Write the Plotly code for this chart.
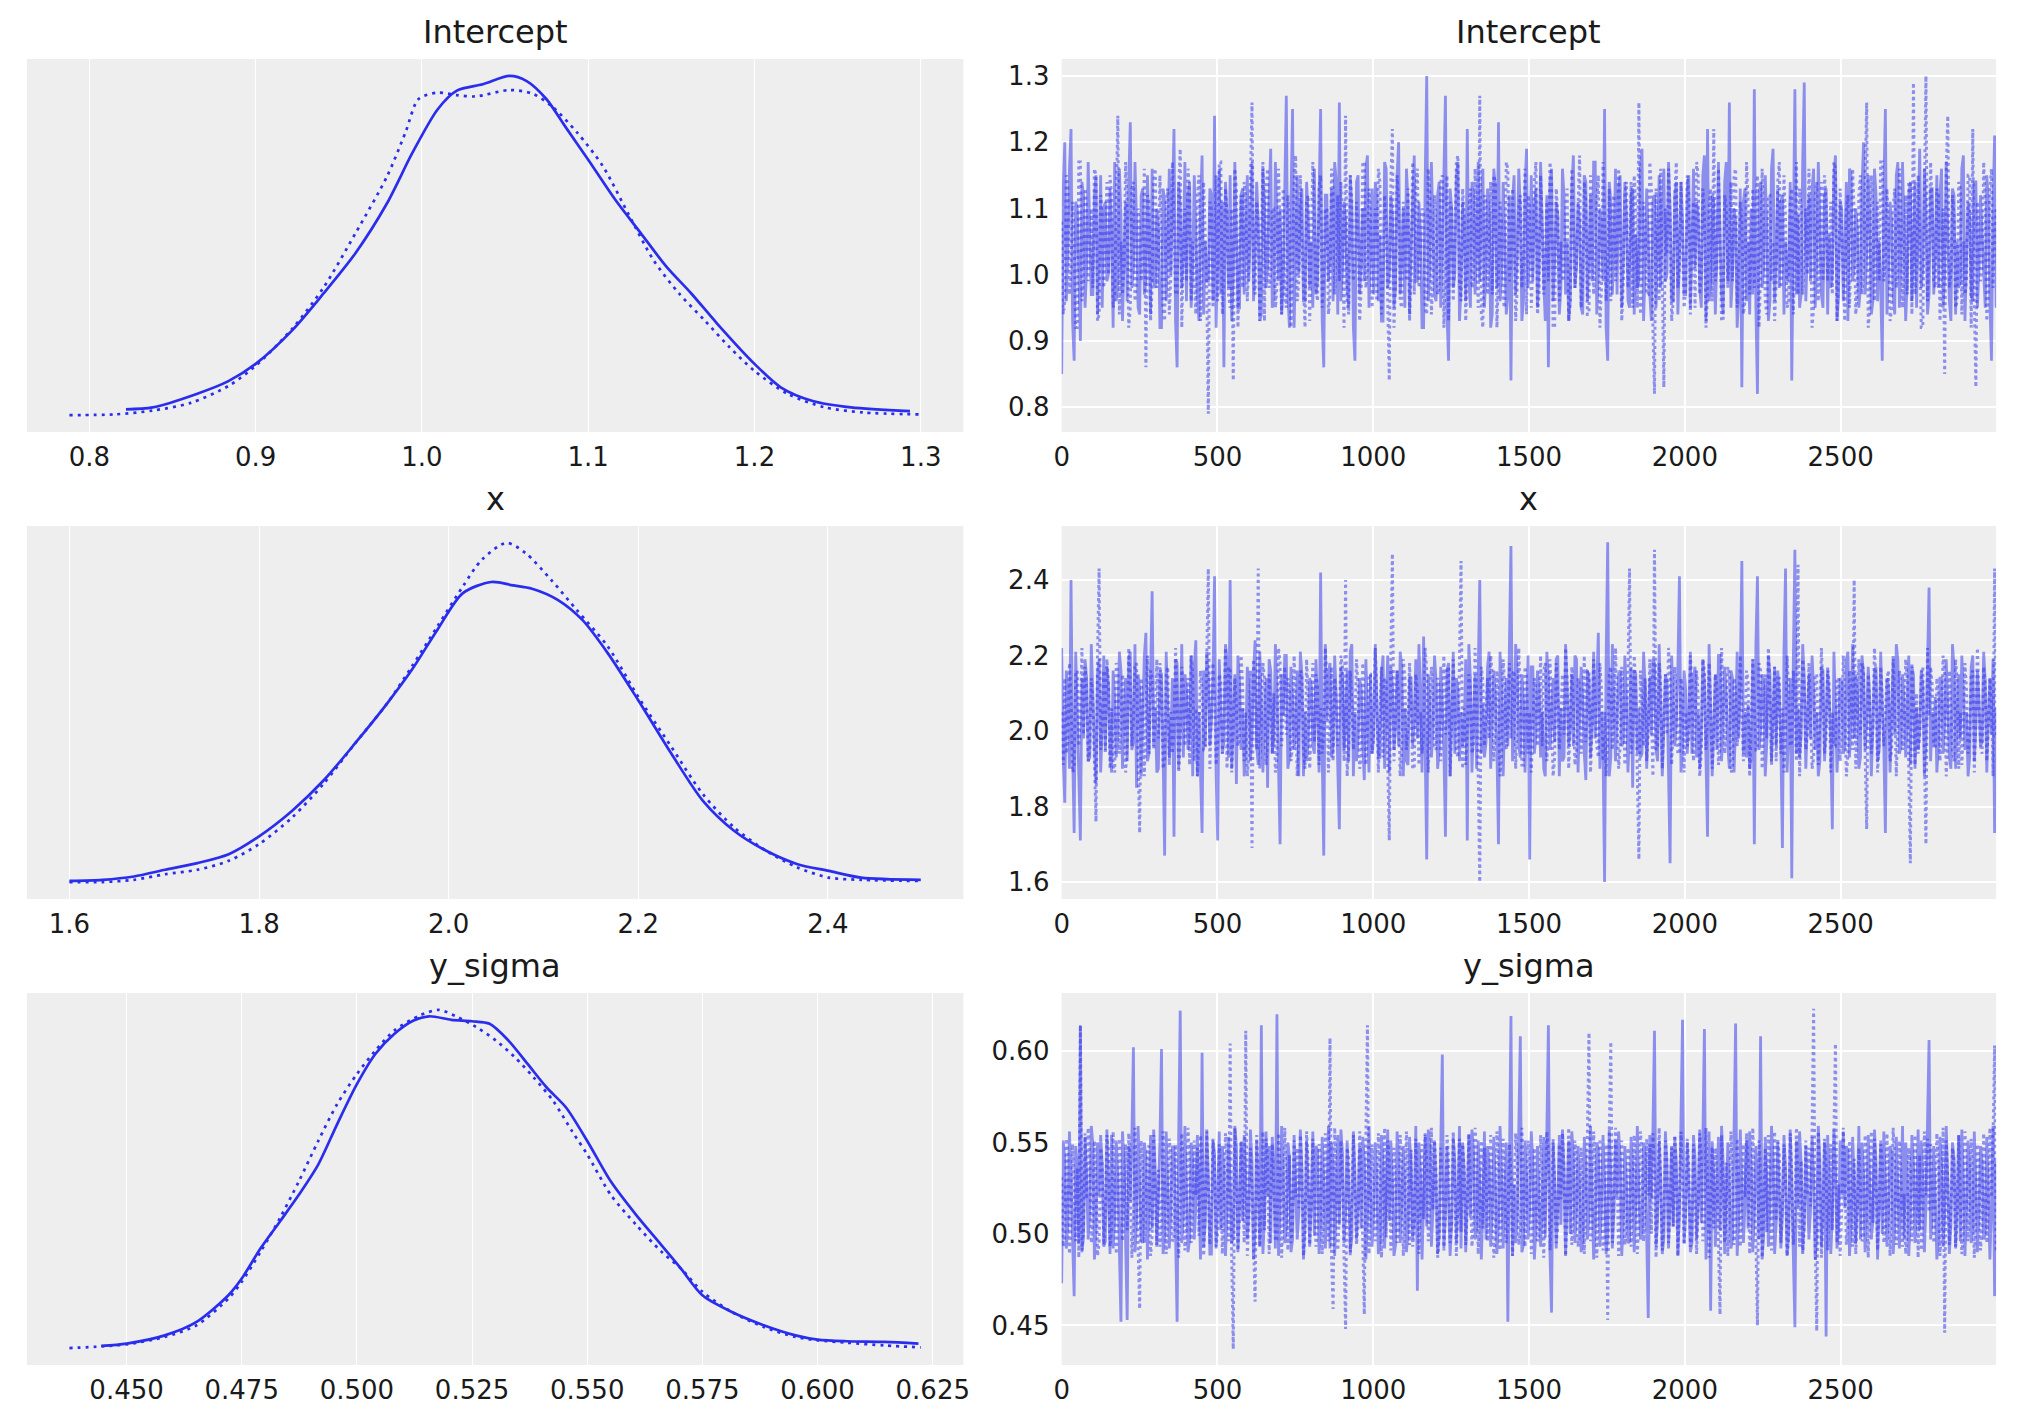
import numpy as np
import plotly.graph_objects as go

# ---------------- data ----------------
params = ["Intercept", "x", "y_sigma"]

# KDE curves (value grid, density) for chain 0 (solid) and chain 1 (dotted)
icpt_kde_x_c0 = [0.822, 0.838, 0.8645, 0.8836, 0.900, 0.9218, 0.9408, 0.960, 0.979, 0.9943, 1.0095, 1.021, 1.0366,
                 1.0527, 1.063, 1.0748, 1.0859, 1.100, 1.1164, 1.1317, 1.147, 1.162, 1.1775, 1.200, 1.216, 1.235,
                 1.258, 1.2935]
icpt_kde_d_c0 = [0.10, 0.13, 0.34, 0.54, 0.81, 1.33, 1.91, 2.54, 3.32, 4.11, 4.79, 5.08, 5.18, 5.31, 5.23, 4.95, 4.53,
                 4.00, 3.37, 2.85, 2.33, 1.91, 1.44, 0.81, 0.44, 0.23, 0.13, 0.07]
icpt_kde_x_c1 = [0.788, 0.815, 0.838, 0.861, 0.884, 0.900, 0.922, 0.941, 0.960, 0.979, 0.990, 0.998, 1.0095, 1.021,
                 1.0324, 1.0527, 1.0668, 1.078, 1.0935, 1.1088, 1.124, 1.1393, 1.1546, 1.170, 1.185, 1.200, 1.220,
                 1.2424, 1.2653, 1.300]
icpt_kde_d_c1 = [0.01, 0.02, 0.08, 0.20, 0.47, 0.78, 1.36, 2.01, 2.85, 3.74, 4.42, 4.95, 5.05, 5.01, 4.99, 5.09, 5.03,
                 4.84, 4.42, 3.90, 3.16, 2.43, 1.91, 1.49, 1.07, 0.70, 0.34, 0.13, 0.05, 0.02]

x_kde_x_c0 = [1.600, 1.635, 1.668, 1.701, 1.735, 1.768, 1.800, 1.835, 1.868, 1.901, 1.935, 1.961, 1.988, 2.015, 2.045,
              2.068, 2.088, 2.115, 2.141, 2.168, 2.200, 2.235, 2.268, 2.301, 2.335, 2.368, 2.401, 2.435, 2.498]
x_kde_d_c0 = [0.02, 0.03, 0.06, 0.12, 0.18, 0.26, 0.42, 0.65, 0.92, 1.25, 1.61, 1.91, 2.27, 2.60, 2.70, 2.67, 2.64,
              2.54, 2.36, 2.06, 1.64, 1.16, 0.74, 0.47, 0.29, 0.17, 0.11, 0.05, 0.03]
x_kde_x_c1 = [1.600, 1.635, 1.668, 1.701, 1.735, 1.768, 1.800, 1.835, 1.868, 1.901, 1.935, 1.961, 1.988, 2.015, 2.035,
              2.061, 2.081, 2.108, 2.135, 2.168, 2.200, 2.235, 2.268, 2.301, 2.335, 2.368, 2.401, 2.435, 2.495]
x_kde_d_c1 = [0.01, 0.01, 0.03, 0.08, 0.12, 0.20, 0.35, 0.59, 0.89, 1.25, 1.61, 1.94, 2.30, 2.66, 2.90, 3.05, 2.96,
              2.72, 2.45, 2.12, 1.67, 1.22, 0.80, 0.50, 0.29, 0.14, 0.05, 0.03, 0.02]

ys_kde_x_c0 = [0.4445, 0.450, 0.4583, 0.4652, 0.4721, 0.475, 0.4791, 0.4833, 0.4874, 0.4916, 0.4957, 0.500, 0.504,
               0.5081, 0.5123, 0.5157, 0.5205, 0.525, 0.5288, 0.5329, 0.5371, 0.5412, 0.5454, 0.550, 0.5551, 0.5606,
               0.5661, 0.5703, 0.575, 0.5814, 0.5883, 0.5952, 0.600, 0.6063, 0.6146, 0.6219]
ys_kde_d_c0 = [0.16, 0.26, 0.61, 1.18, 2.31, 3.02, 4.30, 5.44, 6.57, 7.85, 9.56, 11.26, 12.54, 13.39, 13.96, 14.14,
               13.99, 13.93, 13.82, 13.11, 12.11, 11.12, 10.27, 8.85, 7.14, 5.72, 4.44, 3.45, 2.31, 1.60, 1.04, 0.61,
               0.43, 0.36, 0.33, 0.26]
ys_kde_x_c1 = [0.4376, 0.4445, 0.450, 0.4583, 0.4652, 0.4721, 0.475, 0.4791, 0.4833, 0.4874, 0.4916, 0.4957, 0.500,
               0.504, 0.5081, 0.5136, 0.5178, 0.5219, 0.526, 0.5302, 0.5343, 0.5384, 0.5426, 0.5467, 0.550, 0.5551,
               0.5606, 0.5661, 0.5703, 0.575, 0.5814, 0.5883, 0.5952, 0.600, 0.6063, 0.6146, 0.6224]
ys_kde_d_c1 = [0.07, 0.14, 0.23, 0.54, 1.04, 2.17, 2.88, 4.16, 5.58, 7.14, 8.85, 10.41, 11.69, 12.68, 13.53, 14.17,
               14.41, 14.10, 13.67, 13.11, 12.40, 11.54, 10.55, 9.27, 8.28, 6.57, 5.30, 4.16, 3.45, 2.46, 1.60, 0.97,
               0.54, 0.40, 0.30, 0.18, 0.10]

# Trace samples (thinned read-out, one value per ~5 draws)
# Intercept in hundredths
icpt_trace_c0 = [
    85, 113, 120, 96, 104, 116, 122, 93, 87, 111, 110, 98, 90, 114, 112, 95, 101, 117, 108, 97, 97, 112, 115, 94, 103, 115, 95, 110, 111, 99, 100, 113, 106, 92, 117, 96, 99, 116, 109, 93,
    103, 111, 96, 114, 123, 98, 101, 117, 108, 95, 94, 112, 113, 97, 99, 115, 105, 94, 116, 99, 98, 110, 107, 92, 92, 113, 111, 96, 104, 116, 100, 111, 122, 93, 86, 114, 110, 98, 103, 117,
    96, 112, 114, 95, 101, 115, 107, 97, 93, 110, 118, 94, 105, 99, 99, 113, 112, 96, 124, 92, 102, 116, 97, 111, 86, 114, 109, 98, 115, 93, 100, 117, 106, 95, 95, 112, 113, 97, 104, 115,
    99, 110, 117, 96, 103, 114, 108, 93, 94, 116, 111, 98, 101, 112, 119, 95, 97, 117, 106, 99, 110, 94, 98, 113, 127, 97, 92, 111, 125, 92, 104, 115, 100, 110, 113, 96, 96, 114, 109, 98,
    105, 95, 116, 97, 99, 116, 125, 93, 86, 112, 112, 99, 103, 113, 96, 117, 114, 94, 126, 96, 101, 111, 108, 98, 95, 115, 110, 92, 87, 114, 115, 97, 102, 110, 99, 116, 118, 95, 104, 113,
    97, 114, 112, 96, 106, 93, 93, 117, 116, 98, 100, 112, 109, 95, 98, 115, 120, 97, 103, 110, 95, 116, 111, 94, 104, 113, 118, 99, 99, 111, 106, 92, 92, 114, 130, 96, 101, 117, 108, 97,
    96, 112, 114, 95, 103, 116, 127, 94, 87, 113, 110, 98, 100, 115, 117, 93, 98, 111, 107, 96, 122, 99, 95, 114, 112, 97, 104, 117, 99, 110, 116, 95, 101, 113, 109, 92, 94, 116, 113, 98,
    123, 96, 100, 114, 106, 94, 97, 112, 84, 111, 115, 97, 103, 116, 110, 93, 96, 113, 119, 98, 104, 115, 99, 110, 113, 95, 101, 117, 107, 99, 93, 112, 86, 114, 116, 96, 102, 111, 109, 94,
    98, 116, 112, 97, 105, 93, 96, 113, 118, 98, 101, 111, 108, 95, 94, 115, 114, 96, 103, 112, 99, 117, 117, 94, 100, 110, 107, 99, 125, 92, 87, 114, 111, 97, 104, 116, 97, 113, 115, 95,
    102, 114, 109, 96, 95, 112, 113, 94, 106, 98, 99, 116, 119, 93, 101, 113, 105, 97, 93, 111, 112, 95, 104, 115, 98, 110, 116, 99, 100, 117, 110, 96, 96, 112, 114, 94, 103, 114, 108, 97,
    97, 113, 115, 95, 104, 116, 101, 111, 109, 98, 95, 115, 118, 93, 122, 96, 99, 112, 111, 94, 103, 117, 106, 97, 94, 114, 117, 99, 126, 95, 100, 110, 108, 92, 97, 113, 83, 111, 113, 96,
    105, 94, 110, 97, 128, 95, 82, 112, 114, 98, 101, 115, 107, 93, 96, 116, 119, 96, 103, 113, 98, 111, 112, 94, 105, 99, 100, 114, 84, 110, 128, 97, 109, 95, 97, 117, 129, 96, 104, 112,
    99, 113, 116, 95, 102, 117, 108, 97, 95, 112, 113, 94, 106, 98, 100, 115, 118, 93, 97, 111, 110, 96, 104, 114, 93, 116, 115, 99, 101, 110, 107, 95, 98, 113, 120, 97, 103, 115, 109, 94,
    96, 116, 112, 96, 105, 98, 87, 113, 125, 94, 100, 111, 108, 97, 94, 115, 117, 95, 102, 117, 106, 93, 99, 112, 114, 96, 103, 114, 95, 110, 119, 98, 101, 116, 110, 94, 97, 113, 113, 97,
    104, 115, 98, 112, 116, 95, 100, 117, 107, 96, 93, 113, 112, 94, 105, 98, 99, 116, 118, 93, 102, 111, 109, 97, 96, 114, 114, 95, 101, 112, 106, 99, 95, 115, 111, 96, 87, 110, 121, 95]
icpt_trace_c1 = [
    108, 94, 96, 115, 113, 97, 101, 111, 106, 92, 92, 117, 117, 96, 99, 113, 110, 99, 103, 110, 98, 116, 115, 93, 94, 112, 109, 98, 104, 114, 100, 115, 112, 95, 97, 111, 124, 94, 105, 97,
    101, 117, 110, 92, 95, 113, 114, 96, 99, 110, 107, 99, 103, 116, 86, 112, 111, 93, 98, 114, 116, 98, 102, 115, 106, 95, 93, 111, 113, 94, 100, 117, 108, 97, 97, 113, 119, 92, 104, 110,
    99, 116, 112, 96, 105, 99, 94, 112, 115, 93, 101, 114, 107, 98, 79, 111, 110, 95, 103, 115, 96, 117, 117, 94, 100, 113, 109, 97, 95, 110, 84, 116, 113, 92, 104, 112, 98, 114, 111, 96,
    102, 115, 126, 99, 97, 111, 108, 93, 104, 117, 93, 113, 116, 98, 100, 110, 110, 95, 98, 116, 106, 94, 113, 97, 95, 112, 109, 92, 101, 114, 118, 96, 99, 115, 105, 99, 92, 111, 112, 93,
    103, 117, 108, 98, 96, 113, 115, 95, 100, 110, 110, 94, 97, 116, 113, 97, 104, 112, 99, 114, 107, 92, 124, 96, 94, 115, 111, 99, 102, 111, 106, 93, 98, 117, 117, 98, 101, 113, 109, 95,
    104, 110, 96, 116, 114, 94, 100, 112, 108, 97, 84, 114, 122, 92, 99, 115, 111, 96, 95, 111, 106, 99, 113, 93, 101, 117, 97, 113, 116, 98, 103, 110, 109, 95, 94, 116, 112, 94, 100, 112,
    107, 97, 98, 114, 115, 92, 102, 115, 93, 111, 110, 96, 104, 117, 118, 99, 96, 113, 109, 93, 101, 110, 113, 98, 99, 116, 106, 95, 127, 94, 92, 112, 111, 97, 103, 114, 97, 115, 114, 92,
    100, 111, 108, 96, 95, 117, 116, 99, 102, 113, 106, 93, 98, 110, 112, 98, 104, 116, 94, 112, 110, 95, 101, 114, 117, 94, 97, 115, 107, 97, 103, 111, 99, 117, 114, 92, 92, 113, 109, 96,
    105, 99, 100, 110, 113, 93, 96, 116, 108, 98, 102, 112, 118, 95, 99, 114, 111, 94, 94, 115, 106, 97, 103, 111, 115, 92, 98, 117, 109, 96, 101, 113, 96, 110, 112, 99, 104, 116, 107, 93,
    99, 112, 114, 98, 102, 114, 95, 115, 110, 95, 126, 94, 100, 111, 108, 97, 97, 117, 113, 92, 82, 113, 105, 96, 116, 99, 83, 110, 103, 116, 109, 93, 96, 112, 117, 98, 101, 114, 106, 95,
    98, 115, 112, 94, 104, 111, 95, 117, 115, 97, 100, 113, 109, 92, 97, 110, 113, 96, 122, 99, 101, 116, 106, 93, 93, 112, 110, 98, 104, 114, 99, 115, 116, 95, 102, 111, 108, 94, 96, 117,
    111, 97, 103, 113, 98, 110, 115, 92, 100, 116, 107, 96, 94, 112, 112, 99, 105, 93, 99, 114, 117, 98, 101, 115, 108, 95, 96, 111, 113, 94, 103, 117, 97, 113, 110, 97, 104, 110, 100, 116,
    108, 92, 95, 112, 114, 96, 102, 114, 99, 115, 111, 99, 104, 111, 97, 117, 116, 93, 100, 113, 106, 98, 93, 110, 112, 95, 103, 116, 109, 94, 98, 112, 115, 97, 101, 114, 126, 92, 95, 115,
    110, 96, 104, 111, 99, 117, 117, 99, 102, 113, 107, 93, 95, 110, 113, 98, 100, 116, 109, 95, 103, 112, 97, 114, 114, 94, 129, 97, 101, 115, 106, 92, 92, 111, 130, 96, 104, 117, 110, 99,
    98, 113, 112, 93, 103, 110, 85, 116, 124, 98, 100, 112, 109, 95, 96, 114, 113, 94, 105, 97, 99, 115, 115, 92, 122, 96, 83, 111, 107, 99, 101, 117, 111, 93, 97, 113, 116, 98, 104, 110]

# x in hundredths
x_trace_c0 = [
    222, 193, 181, 216, 210, 190, 240, 195, 173, 221, 205, 188, 171, 214, 198, 219, 214, 192, 193, 223, 207, 196, 186, 215, 219, 189, 201, 220, 195, 217, 212, 194, 189, 216, 208, 193, 199, 221, 216, 190,
    203, 214, 192, 219, 221, 195, 197, 223, 185, 215, 211, 188, 204, 220, 226, 192, 194, 217, 237, 196, 206, 189, 190, 216, 215, 194, 167, 221, 209, 193, 198, 214, 172, 219, 218, 190, 202, 223, 193, 215,
    211, 195, 200, 220, 188, 217, 224, 188, 205, 192, 173, 216, 196, 221, 214, 196, 203, 214, 241, 189, 171, 219, 208, 194, 197, 223, 219, 193, 240, 190, 201, 215, 186, 220, 213, 195, 206, 188, 195, 217,
    210, 192, 199, 216, 224, 196, 191, 221, 207, 189, 203, 214, 185, 219, 216, 194, 198, 223, 211, 193, 170, 215, 204, 220, 220, 190, 193, 217, 209, 195, 200, 216, 188, 221, 215, 188, 205, 192, 197, 214,
    212, 196, 194, 219, 207, 189, 242, 194, 167, 223, 203, 215, 218, 193, 196, 220, 209, 190, 174, 217, 214, 195, 201, 216, 192, 221, 223, 188, 205, 192, 198, 214, 211, 196, 187, 219, 206, 189, 215, 194,
    199, 223, 208, 193, 193, 215, 220, 190, 204, 220, 189, 217, 212, 195, 201, 216, 196, 221, 217, 188, 206, 192, 191, 214, 214, 196, 203, 219, 198, 223, 210, 189, 225, 194, 166, 215, 207, 193, 200, 220,
    213, 190, 195, 217, 206, 195, 172, 216, 218, 188, 202, 221, 194, 214, 211, 192, 205, 196, 199, 219, 171, 223, 214, 189, 203, 215, 190, 220, 240, 194, 207, 193, 197, 217, 221, 190, 201, 216, 209, 195,
    170, 221, 212, 188, 204, 214, 196, 219, 249, 192, 200, 223, 215, 196, 193, 215, 208, 189, 202, 220, 166, 217, 217, 194, 199, 216, 211, 193, 205, 190, 188, 221, 214, 195, 203, 214, 197, 219, 220, 188,
    206, 192, 193, 223, 212, 196, 201, 215, 196, 220, 219, 189, 204, 217, 208, 194, 187, 216, 214, 193, 202, 221, 198, 214, 226, 190, 205, 195, 160, 219, 250, 188, 193, 223, 210, 192, 203, 215, 216, 196,
    197, 220, 209, 189, 201, 217, 185, 216, 215, 194, 206, 193, 194, 221, 212, 190, 203, 214, 199, 219, 218, 195, 192, 223, 207, 188, 201, 215, 213, 192, 165, 220, 208, 196, 202, 217, 241, 189, 196, 216,
    211, 194, 203, 221, 194, 214, 217, 193, 205, 190, 199, 219, 213, 195, 172, 223, 208, 188, 201, 215, 195, 220, 220, 192, 204, 217, 209, 196, 190, 216, 214, 189, 202, 221, 198, 214, 245, 194, 205, 193,
    207, 190, 193, 219, 170, 223, 241, 195, 200, 215, 212, 188, 197, 220, 215, 192, 204, 217, 196, 216, 210, 196, 169, 221, 243, 189, 201, 214, 161, 219, 248, 194, 206, 193, 199, 223, 214, 190, 203, 215,
    198, 220, 211, 195, 205, 188, 192, 217, 216, 192, 203, 216, 209, 196, 174, 221, 207, 189, 200, 214, 213, 194, 196, 219, 221, 193, 204, 223, 198, 215, 210, 190, 193, 220, 215, 195, 202, 217, 208, 188,
    201, 216, 217, 192, 195, 221, 206, 196, 173, 214, 212, 189, 204, 219, 199, 223, 219, 194, 196, 215, 208, 193, 203, 220, 191, 217, 215, 190, 206, 195, 200, 216, 212, 188, 197, 221, 238, 192, 205, 196,
    209, 189, 196, 214, 214, 194, 202, 219, 207, 193, 190, 223, 217, 190, 203, 215, 198, 220, 211, 195, 205, 188, 193, 217, 220, 192, 201, 216, 208, 196, 197, 221, 213, 189, 204, 214, 199, 219, 173, 206]
x_trace_c1 = [
    205, 191, 214, 194, 197, 218, 209, 189, 190, 215, 216, 196, 203, 222, 199, 217, 211, 192, 195, 214, 208, 188, 176, 220, 243, 195, 202, 216, 194, 219, 213, 190, 206, 191, 189, 218, 215, 194, 200, 215,
    209, 189, 196, 222, 212, 196, 203, 217, 218, 192, 173, 214, 207, 188, 201, 220, 194, 216, 214, 195, 204, 219, 198, 218, 211, 190, 192, 215, 217, 191, 205, 194, 200, 222, 209, 189, 196, 217, 212, 196,
    203, 214, 191, 220, 215, 192, 206, 188, 199, 216, 211, 195, 195, 219, 243, 190, 202, 218, 208, 191, 197, 215, 213, 194, 204, 222, 190, 217, 216, 189, 201, 214, 207, 196, 198, 220, 212, 192, 205, 188,
    194, 216, 169, 219, 209, 195, 243, 190, 201, 218, 214, 191, 197, 215, 206, 194, 210, 189, 193, 222, 218, 196, 204, 217, 199, 214, 211, 192, 196, 220, 207, 188, 202, 216, 215, 195, 190, 219, 209, 190,
    203, 218, 197, 215, 212, 191, 206, 194, 199, 222, 214, 189, 201, 217, 192, 214, 209, 196, 204, 220, 217, 192, 240, 188, 196, 216, 208, 195, 203, 219, 211, 190, 193, 218, 206, 191, 200, 215, 215, 194,
    198, 222, 209, 189, 204, 217, 193, 214, 213, 196, 171, 220, 247, 192, 202, 216, 208, 188, 196, 219, 214, 195, 201, 218, 207, 190, 190, 215, 211, 191, 205, 194, 199, 222, 216, 189, 203, 217, 208, 196,
    195, 214, 212, 192, 204, 220, 199, 216, 217, 188, 202, 219, 207, 195, 193, 218, 245, 190, 206, 191, 200, 215, 211, 194, 196, 222, 209, 189, 160, 217, 213, 196, 204, 214, 198, 220, 215, 192, 201, 216,
    207, 188, 194, 219, 212, 195, 203, 218, 198, 215, 216, 190, 202, 222, 208, 191, 191, 217, 214, 194, 205, 189, 199, 214, 211, 196, 203, 220, 196, 216, 218, 192, 201, 219, 207, 188, 193, 218, 210, 195,
    204, 215, 199, 222, 214, 190, 202, 217, 208, 191, 195, 214, 212, 194, 203, 220, 197, 216, 216, 189, 201, 219, 209, 196, 193, 218, 211, 192, 205, 188, 199, 215, 217, 195, 202, 222, 207, 190, 196, 217,
    210, 191, 203, 214, 243, 194, 198, 220, 211, 189, 166, 216, 205, 196, 214, 192, 200, 219, 207, 188, 248, 195, 196, 218, 212, 190, 203, 215, 199, 222, 215, 191, 202, 217, 208, 194, 194, 214, 211, 189,
    205, 196, 198, 220, 213, 192, 201, 216, 209, 188, 194, 219, 216, 195, 203, 218, 207, 190, 199, 215, 212, 191, 196, 222, 208, 194, 204, 217, 215, 189, 190, 214, 211, 196, 202, 220, 206, 192, 199, 216,
    213, 188, 201, 219, 207, 195, 195, 218, 216, 190, 203, 215, 198, 222, 210, 191, 204, 217, 192, 214, 214, 194, 206, 189, 200, 220, 211, 196, 197, 216, 208, 192, 244, 188, 203, 219, 212, 195, 199, 218,
    206, 190, 193, 215, 215, 191, 202, 222, 209, 194, 198, 217, 212, 189, 205, 196, 196, 214, 214, 192, 201, 220, 208, 188, 194, 216, 211, 195, 240, 190, 203, 219, 199, 218, 216, 191, 174, 215, 207, 194,
    201, 222, 213, 189, 197, 217, 209, 196, 204, 214, 216, 192, 195, 220, 207, 188, 202, 216, 211, 195, 198, 219, 214, 190, 165, 218, 206, 191, 210, 194, 199, 215, 217, 189, 170, 222, 204, 217, 212, 196,
    196, 214, 209, 192, 203, 220, 215, 188, 199, 216, 207, 195, 192, 219, 213, 190, 205, 191, 201, 218, 211, 194, 198, 215, 216, 189, 203, 222, 207, 196, 194, 217, 212, 192, 201, 214, 208, 188, 243, 198]

# y_sigma in thousandths
ys_trace_c0 = [
    473, 551, 541, 492, 505, 556, 528, 488, 466, 548, 536, 495, 614, 490, 498, 553, 532, 497, 512, 559, 549, 486, 503, 550, 521, 554, 538, 493, 496, 557, 527, 489, 554, 492, 509, 551, 531, 488, 452, 556,
    537, 495, 453, 548, 518, 553, 602, 490, 507, 559, 529, 497, 495, 550, 542, 486, 516, 554, 503, 557, 533, 493, 521, 551, 601, 489, 499, 556, 526, 492, 514, 548, 547, 488, 452, 553, 622, 495, 510, 559,
    528, 490, 497, 550, 540, 497, 515, 554, 523, 486, 599, 493, 506, 557, 531, 489, 489, 551, 544, 492, 519, 556, 502, 548, 535, 488, 511, 553, 527, 495, 498, 559, 548, 490, 516, 550, 507, 554, 530, 497,
    512, 557, 539, 486, 501, 551, 526, 493, 614, 489, 508, 556, 521, 548, 495, 553, 533, 492, 620, 488, 514, 559, 529, 495, 503, 550, 542, 490, 497, 554, 524, 497, 511, 557, 536, 486, 505, 551, 527, 493,
    518, 556, 499, 548, 546, 489, 508, 553, 530, 492, 514, 559, 492, 550, 537, 488, 520, 554, 505, 557, 544, 495, 511, 551, 526, 490, 498, 556, 533, 497, 517, 548, 503, 553, 540, 486, 509, 559, 525, 493,
    512, 550, 531, 489, 496, 554, 538, 492, 519, 557, 507, 551, 529, 488, 494, 556, 541, 495, 515, 548, 524, 490, 501, 553, 536, 497, 510, 559, 469, 550, 532, 486, 518, 554, 504, 557, 547, 493, 513, 551,
    527, 489, 499, 556, 598, 492, 511, 548, 523, 488, 506, 553, 540, 495, 516, 559, 492, 550, 534, 490, 519, 554, 509, 557, 545, 497, 503, 551, 528, 486, 514, 556, 497, 548, 537, 493, 512, 553, 525, 489,
    506, 559, 531, 492, 518, 550, 452, 554, 619, 488, 527, 495, 509, 557, 608, 490, 494, 551, 532, 497, 515, 556, 540, 486, 503, 548, 524, 493, 511, 553, 498, 559, 614, 489, 457, 550, 529, 492, 516, 554,
    505, 557, 535, 488, 519, 551, 500, 556, 542, 495, 513, 548, 526, 490, 497, 553, 538, 497, 510, 559, 523, 486, 504, 550, 546, 493, 515, 554, 529, 489, 499, 557, 533, 492, 512, 551, 520, 556, 541, 488,
    507, 548, 528, 495, 496, 553, 537, 490, 514, 559, 523, 497, 502, 550, 544, 486, 454, 554, 519, 557, 611, 493, 508, 551, 530, 489, 498, 556, 536, 492, 515, 548, 504, 553, 539, 488, 511, 559, 617, 495,
    513, 550, 527, 490, 495, 554, 541, 497, 518, 557, 506, 551, 612, 486, 510, 556, 458, 548, 533, 493, 520, 553, 502, 559, 539, 489, 514, 550, 526, 492, 497, 554, 615, 488, 509, 557, 531, 495, 516, 551,
    503, 556, 536, 490, 512, 548, 525, 497, 608, 486, 499, 553, 530, 493, 517, 559, 541, 489, 506, 550, 522, 492, 511, 554, 535, 488, 500, 557, 527, 495, 449, 551, 515, 556, 538, 490, 506, 548, 524, 497,
    513, 553, 531, 486, 498, 559, 540, 493, 517, 550, 444, 554, 528, 489, 509, 557, 536, 492, 502, 551, 521, 556, 514, 548, 545, 488, 505, 553, 530, 495, 518, 559, 497, 550, 534, 490, 511, 554, 526, 497,
    507, 557, 539, 486, 516, 551, 500, 556, 528, 493, 512, 548, 543, 489, 504, 553, 525, 492, 519, 559, 497, 550, 533, 488, 510, 554, 538, 495, 514, 557, 502, 551, 529, 490, 516, 556, 606, 497, 509, 548,
    523, 486, 498, 553, 537, 493, 512, 559, 530, 489, 505, 550, 541, 492, 517, 554, 496, 557, 528, 488, 514, 551, 535, 495, 503, 556, 526, 490, 511, 548, 539, 497, 500, 553, 522, 486, 515, 559, 466, 540]
ys_trace_c1 = [
    531, 493, 498, 552, 544, 489, 509, 549, 524, 496, 536, 487, 614, 491, 503, 555, 519, 558, 540, 495, 507, 551, 528, 488, 495, 547, 537, 494, 513, 554, 546, 493, 502, 556, 525, 489, 511, 552, 534, 496,
    517, 549, 502, 555, 539, 487, 508, 558, 527, 491, 459, 551, 533, 495, 514, 547, 548, 488, 499, 554, 522, 494, 535, 493, 506, 556, 529, 489, 512, 552, 541, 496, 497, 549, 526, 487, 515, 555, 532, 491,
    504, 558, 538, 495, 516, 551, 521, 547, 499, 554, 543, 488, 510, 556, 527, 494, 514, 552, 535, 493, 501, 549, 529, 489, 518, 555, 540, 496, 604, 487, 437, 558, 524, 491, 509, 551, 531, 495, 611, 488,
    508, 547, 526, 494, 463, 554, 534, 493, 515, 556, 502, 552, 541, 489, 519, 549, 528, 496, 497, 555, 536, 487, 511, 558, 525, 491, 543, 495, 506, 551, 520, 547, 514, 554, 532, 488, 499, 556, 538, 494,
    513, 552, 527, 493, 502, 549, 539, 489, 518, 555, 524, 496, 607, 487, 459, 558, 533, 491, 510, 551, 529, 495, 448, 547, 541, 488, 516, 554, 523, 494, 505, 556, 537, 493, 456, 552, 614, 489, 512, 549,
    526, 496, 507, 555, 534, 487, 519, 558, 498, 551, 540, 491, 515, 547, 528, 495, 503, 554, 537, 488, 511, 556, 524, 494, 546, 493, 501, 552, 530, 489, 517, 549, 508, 555, 539, 496, 520, 558, 513, 551,
    534, 487, 498, 547, 525, 491, 511, 554, 542, 495, 506, 556, 529, 488, 517, 552, 501, 549, 536, 494, 514, 555, 527, 493, 509, 558, 543, 489, 520, 551, 503, 547, 531, 496, 516, 554, 525, 487, 499, 556,
    538, 491, 512, 552, 526, 495, 505, 549, 533, 488, 519, 555, 541, 494, 502, 558, 528, 493, 515, 551, 536, 489, 508, 547, 522, 496, 499, 554, 531, 487, 517, 556, 545, 491, 510, 552, 527, 495, 504, 549,
    519, 555, 535, 488, 507, 558, 529, 494, 513, 551, 540, 493, 501, 547, 524, 489, 517, 554, 610, 496, 506, 556, 532, 487, 514, 552, 527, 491, 498, 549, 453, 555, 605, 495, 520, 558, 538, 488, 511, 551,
    525, 494, 503, 547, 534, 493, 516, 554, 529, 489, 508, 556, 542, 496, 514, 552, 521, 549, 500, 555, 536, 487, 518, 558, 527, 491, 509, 551, 540, 495, 513, 547, 504, 554, 531, 488, 519, 556, 526, 494,
    512, 552, 537, 493, 499, 549, 524, 489, 515, 555, 541, 496, 507, 558, 528, 487, 518, 551, 503, 547, 534, 491, 456, 554, 522, 495, 539, 488, 511, 556, 527, 494, 505, 552, 531, 493, 516, 549, 520, 555,
    538, 489, 509, 558, 525, 496, 450, 551, 532, 487, 514, 547, 501, 554, 536, 491, 520, 556, 507, 552, 543, 495, 517, 549, 529, 488, 498, 555, 533, 494, 512, 558, 526, 493, 540, 489, 504, 551, 521, 547,
    515, 554, 623, 496, 447, 556, 531, 487, 508, 552, 537, 491, 519, 549, 502, 555, 604, 495, 527, 488, 514, 558, 536, 494, 506, 551, 523, 493, 541, 489, 510, 547, 528, 496, 499, 554, 534, 487, 517, 556,
    506, 552, 529, 491, 515, 549, 540, 495, 503, 555, 525, 488, 518, 558, 537, 494, 509, 551, 531, 493, 522, 489, 500, 547, 535, 496, 514, 554, 527, 487, 543, 491, 508, 556, 521, 552, 512, 549, 530, 495,
    517, 555, 536, 488, 504, 558, 446, 551, 528, 494, 513, 547, 539, 493, 507, 554, 523, 489, 501, 556, 534, 496, 519, 552, 526, 487, 510, 549, 538, 491, 505, 555, 529, 495, 516, 558, 520, 551, 603, 490]

trace_scale = {"Intercept": 100.0, "x": 100.0, "y_sigma": 1000.0}
n_draws = 3000

kde_ticks = {
    "Intercept": [0.8, 0.9, 1.0, 1.1, 1.2, 1.3],
    "x": [1.6, 1.8, 2.0, 2.2, 2.4],
    "y_sigma": [0.450, 0.475, 0.500, 0.525, 0.550, 0.575, 0.600, 0.625],
}
kde_tickformat = {"Intercept": ".1f", "x": ".1f", "y_sigma": ".3f"}
trace_ticks = {
    "Intercept": [0.8, 0.9, 1.0, 1.1, 1.2, 1.3],
    "x": [1.6, 1.8, 2.0, 2.2, 2.4],
    "y_sigma": [0.45, 0.50, 0.55, 0.60],
}
trace_tickformat = {"Intercept": ".1f", "x": ".1f", "y_sigma": ".2f"}
draw_ticks = [0, 500, 1000, 1500, 2000, 2500]

kde_data = {
    "Intercept": [(icpt_kde_x_c0, icpt_kde_d_c0), (icpt_kde_x_c1, icpt_kde_d_c1)],
    "x": [(x_kde_x_c0, x_kde_d_c0), (x_kde_x_c1, x_kde_d_c1)],
    "y_sigma": [(ys_kde_x_c0, ys_kde_d_c0), (ys_kde_x_c1, ys_kde_d_c1)],
}
trace_data = {
    "Intercept": [icpt_trace_c0, icpt_trace_c1],
    "x": [x_trace_c0, x_trace_c1],
    "y_sigma": [ys_trace_c0, ys_trace_c1],
}

# ---------------- style ----------------
W, H = 2023, 1423
FONT = "DejaVu Sans"
TEXT = "#1a1a1a"
KDE_COLOR = "#2a2eec"
TRACE_COLOR = "rgba(42,46,236,0.5)"
BG = "#eeeeee"

left_px = (19, 962)
right_px = (1061, 2002)
rows_px = [(59, 432), (526, 899), (993, 1365)]


def xdom(px):
    return [px[0] / W, px[1] / W]


def ydom(px):
    return [1 - px[1] / H, 1 - px[0] / H]


def padded(lo, hi, frac=0.05):
    p = (hi - lo) * frac
    return [lo - p, hi + p]


fig = go.Figure()
layout = dict(
    width=W, height=H, margin=dict(l=0, r=0, t=0, b=0),
    paper_bgcolor="white", plot_bgcolor=BG, showlegend=False,
    font=dict(family=FONT, size=26, color=TEXT),
)
annotations = []

for r, p in enumerate(params):
    kx = 2 * r + 1
    tx = 2 * r + 2
    kname = "" if kx == 1 else str(kx)
    tname = str(tx)

    # trace
    for c, vals in enumerate(trace_data[p]):
        v = np.array(vals) / trace_scale[p]
        draws = np.linspace(0, n_draws - 1, len(v))
        fig.add_trace(go.Scatter(
            x=draws, y=v, mode="lines", xaxis="x" + tname, yaxis="y" + tname,
            line=dict(color=TRACE_COLOR, width=2.8 if c == 0 else 3.0,
                      dash="solid" if c == 0 else "3px,3.4px"),
            hoverinfo="skip"))

    # KDE
    allx, ally = [], []
    for c, (xs, ds) in enumerate(kde_data[p]):
        allx += xs
        ally += ds
        fig.add_trace(go.Scatter(
            x=xs, y=ds, mode="lines", xaxis="x" + kname, yaxis="y" + kname,
            line=dict(color=KDE_COLOR, width=2.7, shape="spline", smoothing=0.8,
                      dash="solid" if c == 0 else "3px,5px"),
            hoverinfo="skip"))
    vrange = padded(min(allx), max(allx))
    drange = padded(min(ally), max(ally))

    layout["xaxis" + kname] = dict(
        domain=xdom(left_px), anchor="y" + kname, range=vrange,
        tickvals=kde_ticks[p], tickformat=kde_tickformat[p],
        showgrid=True, gridcolor="white", gridwidth=1.3, zeroline=False, showline=False,
        ticks="outside", ticklen=2, tickcolor="rgba(0,0,0,0)",
        tickfont=dict(family=FONT, size=26, color=TEXT))
    layout["yaxis" + kname] = dict(
        domain=ydom(rows_px[r]), anchor="x" + kname, range=drange,
        showgrid=False, zeroline=False, showline=False, showticklabels=False, ticks="")
    layout["xaxis" + tname] = dict(
        domain=xdom(right_px), anchor="y" + tname, range=[0, n_draws - 1],
        tickvals=draw_ticks, showgrid=True, gridcolor="white", gridwidth=2,
        zeroline=False, showline=False, ticks="outside", ticklen=2, tickcolor="rgba(0,0,0,0)",
        tickfont=dict(family=FONT, size=26, color=TEXT))
    layout["yaxis" + tname] = dict(
        domain=ydom(rows_px[r]), anchor="x" + tname, range=vrange,
        tickvals=trace_ticks[p], tickformat=trace_tickformat[p],
        showgrid=True, gridcolor="white", gridwidth=2, zeroline=False, showline=False,
        ticks="outside", ticklen=6, tickcolor="rgba(0,0,0,0)",
        tickfont=dict(family=FONT, size=26, color=TEXT))

    for px in (left_px, right_px):
        annotations.append(dict(
            text=p, xref="paper", yref="paper",
            x=(px[0] + px[1]) / 2 / W, y=1 - rows_px[r][0] / H,
            xanchor="center", yanchor="bottom", yshift=6, showarrow=False,
            font=dict(family=FONT, size=32, color=TEXT)))

layout["annotations"] = annotations
fig.update_layout(**layout)
fig.write_html("out.html")
